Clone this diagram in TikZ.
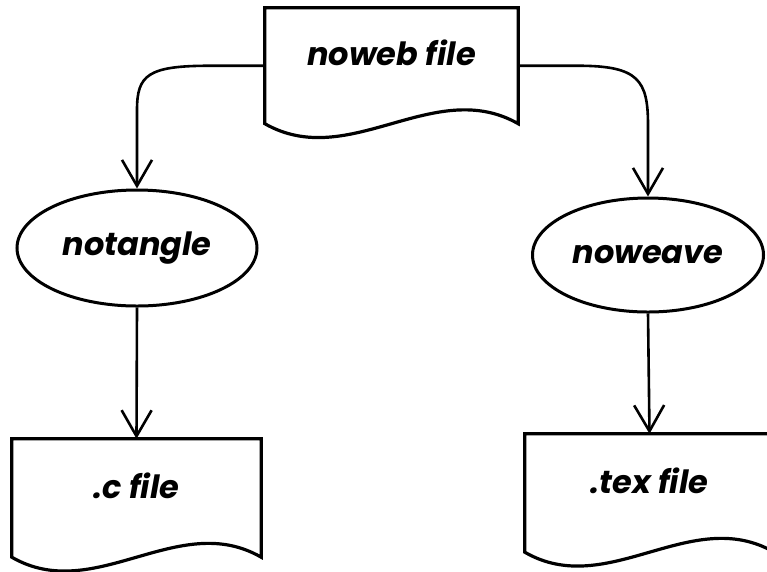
\documentclass[tikz,border=0pt]{standalone}
\usepackage{fontspec}
\setmainfont{Poppins}
\usepackage{tikz}
\usetikzlibrary{positioning, arrows.meta, shapes.geometric, calc}

% file shape: box with a wavy lower edge
\newcommand{\wavedoc}[1]{%
  \draw[box] (#1.south west) -- (#1.north west) -- (#1.north east) -- (#1.south east)
    .. controls ($(#1.south east)!0.333!(#1.south west)+(0,-48)$)
    and ($(#1.south east)!0.667!(#1.south west)+(0,48)$) .. (#1.south west) -- cycle;}

\begin{document}
\begin{tikzpicture}[x=1pt, y=-1pt,
    box/.style={line width=3.2pt, line join=miter},
    lbl/.style={font=\fontsize{32}{38}\selectfont\bfseries\itshape},
    file/.style={lbl, inner sep=0pt, text height=20pt, text depth=20pt},
    prog/.style={lbl, ellipse, draw, line width=3pt, inner sep=0pt},
    flow/.style={line width=2.6pt, -{Straight Barb[length=26pt, width=30pt, line width=2.6pt]}}]
    \useasboundingbox (0,0) rectangle (767,571);
    \clip (0,0) rectangle (767,571);

    % Files
    \node[file, minimum width=253pt, minimum height=115.5pt] (noweb) at (391.5,65.75) {noweb file};
    \node[file, minimum width=249pt, minimum height=118pt] (cfile) at (136.5,498) {.c file};
    \node[file, minimum width=249pt, minimum height=118pt] (texfile) at (649.5,493) {.tex file};
    \wavedoc{noweb}
    \wavedoc{cfile}
    \wavedoc{texfile}

    % Programs
    \node[prog, minimum width=240pt, minimum height=116pt] (tangle) at (137,248) {notangle};
    \node[prog, minimum width=231pt, minimum height=114pt] (weave) at (648,255) {noweave};

    % Arrows
    \draw[flow] (noweb.west) -- ++(-55,0) .. controls +(-62,0) and +(0,-35) .. (tangle.north |- 0,110) -- (tangle.north);
    \draw[flow] (noweb.east) -- ++(60,0) .. controls +(60,0) and +(0,-45) .. (weave.north |- 0,125) -- (weave.north);
    \draw[flow] (tangle.south) -- (cfile.north);
    \draw[flow] (weave.south) -- (texfile.north);
\end{tikzpicture}
\end{document}
